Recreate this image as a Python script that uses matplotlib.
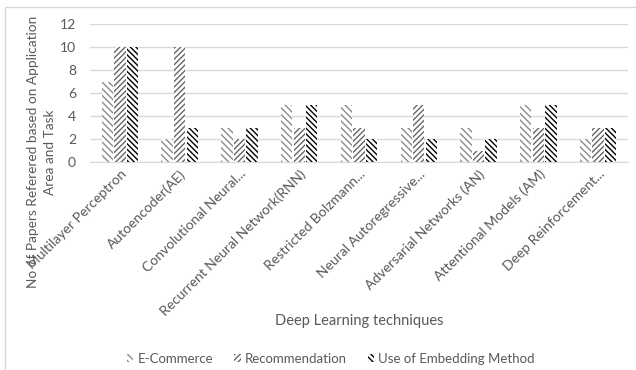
import numpy as np
import matplotlib.pyplot as plt
from matplotlib.patches import Rectangle

plt.rcParams['font.family'] = ['Lato', 'DejaVu Sans']
plt.rcParams['hatch.linewidth'] = 1.0

categories = ["Multilayer Perceptron", "Autoencoder(AE)", "Convolutional Neural...",
              "Recurrent Neural Network(RNN)", "Restricted Bolzmann...",
              "Neural Autoregressive...", "Adversarial Networks (AN)",
              "Attentional Models (AM)", "Deep Reinforcement..."]
ecommerce = [7, 2, 3, 5, 5, 3, 3, 5, 2]
recommendation = [10, 10, 2, 3, 3, 5, 1, 3, 3]
embedding = [10, 3, 3, 5, 2, 2, 2, 5, 3]
series_names = ["E-Commerce", "Recommendation", "Use of Embedding Method"]

txt = '#595959'
fig = plt.figure(figsize=(6.36, 3.70), dpi=100)
fig.patches.append(Rectangle((0.008, -0.01), 1.0, 0.99, transform=fig.transFigure,
                             fill=False, edgecolor='#d9d9d9', linewidth=1))
ax = fig.add_axes([0.1415, 0.562, 0.846, 0.373])

x = np.arange(len(categories))
w = 0.19
styles = [('\\' * 5, '#8c8c8c'), ('/' * 6, '#666666'), ('\\' * 6, '#000000')]
for i, (vals, name, (h, c)) in enumerate(zip([ecommerce, recommendation, embedding],
                                             series_names, styles)):
    ax.bar(x + (i - 1) * (w + 0.02), vals, w, facecolor='white', edgecolor=c,
           hatch=h, linewidth=0, label=name, zorder=3)

ax.set_xlim(-0.5, len(categories) - 0.5)
ax.set_ylim(0, 12)
ax.set_yticks(range(0, 13, 2))
ax.grid(axis='y', color='#d9d9d9', linewidth=1, zorder=0)
for s in ['top', 'right', 'left']:
    ax.spines[s].set_visible(False)
ax.spines['bottom'].set_color('#d9d9d9')
ax.tick_params(axis='both', length=0, colors=txt, labelsize=10)
ax.tick_params(axis='y', pad=10)
ax.tick_params(axis='x', labelsize=10, pad=4)
ax.set_xticks(x)
ax.set_xticklabels(categories, rotation=45, ha='right', rotation_mode='anchor')
for lab in ax.get_xticklabels():
    lab.set_color(txt)

fig.text(0.066, 0.589, "No of Papers Referered based on Application\nArea and Task",
         rotation=90, ha='center', va='center', color=txt, fontsize=9.8,
         multialignment='center', linespacing=1.5)
fig.text(0.565, 0.132, "Deep Learning techniques", ha='center', va='center',
         color=txt, fontsize=10.5)
leg = fig.legend(loc='center', bbox_to_anchor=(0.52, 0.03), ncol=3, frameon=False,
                 fontsize=9.5, handlelength=0.5, handleheight=0.5,
                 handletextpad=0.3, columnspacing=1.6)
for t in leg.get_texts():
    t.set_color(txt)

fig.savefig('out.png', dpi=100)
